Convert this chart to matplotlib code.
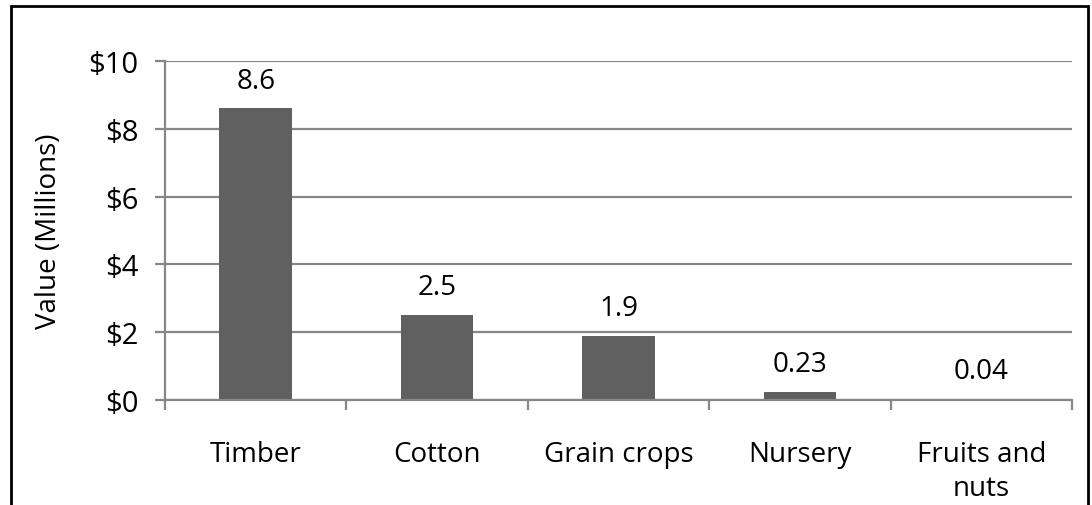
import numpy as np
import matplotlib.pyplot as plt
from matplotlib.patches import Rectangle

# chart data
categories = ['Timber', 'Cotton', 'Grain crops', 'Nursery', 'Fruits and\nnuts']
values = [8.6, 2.5, 1.9, 0.23, 0.04]
value_labels = ['8.6', '2.5', '1.9', '0.23', '0.04']
y_ticks = [0, 2, 4, 6, 8, 10]
y_tick_labels = ['$0', '$2', '$4', '$6', '$8', '$10']

plt.rcParams['font.family'] = ['Open Sans', 'DejaVu Sans']
grid_col = '#878787'
bar_col = '#606060'

fig = plt.figure(figsize=(10.92, 5.06), dpi=100)
ax = fig.add_axes([165/1092, 1 - 401/506, (1072-165)/1092, (401-62)/506])

x = np.arange(len(categories))
ax.bar(x, values, width=0.4, color=bar_col, zorder=3)

for xi, v, lab in zip(x, values, value_labels):
    ax.annotate(lab, (xi, v), xytext=(0, 20), textcoords='offset points',
                ha='center', va='center', fontsize=20)

ax.set_xlim(-0.5, len(categories) - 0.5)
ax.set_ylim(0, 10)
ax.set_yticks(y_ticks)
ax.set_yticklabels(y_tick_labels, fontsize=21)
ax.yaxis.grid(True, color=grid_col, linewidth=1.6, zorder=0)
ax.tick_params(axis='y', length=7, width=1.6, color=grid_col, pad=12)

ax.set_xticks(x)
ax.set_xticklabels(categories, fontsize=20, linespacing=1.25, va='top')
ax.set_xticks(np.arange(-0.5, len(categories), 1), minor=True)
ax.tick_params(axis='x', which='major', length=0, pad=29)
ax.tick_params(axis='x', which='minor', length=7, width=1.6, color=grid_col)

for s in ['top', 'right']:
    ax.spines[s].set_visible(False)
for s in ['left', 'bottom']:
    ax.spines[s].set_color(grid_col)
    ax.spines[s].set_linewidth(1.6)
    ax.spines[s].set_zorder(4)

ax.set_ylabel('Value (Millions)', fontsize=20)
ax.yaxis.set_label_coords(-0.113, 0.5)

# outer chart frame (bottom edge is cut off)
fig.patches.append(Rectangle((11/1092, -0.1), (1088-11)/1092, 1.1 - 7/506,
                             transform=fig.transFigure, fill=False,
                             edgecolor='black', linewidth=2))

fig.savefig('out.png', dpi=100)
